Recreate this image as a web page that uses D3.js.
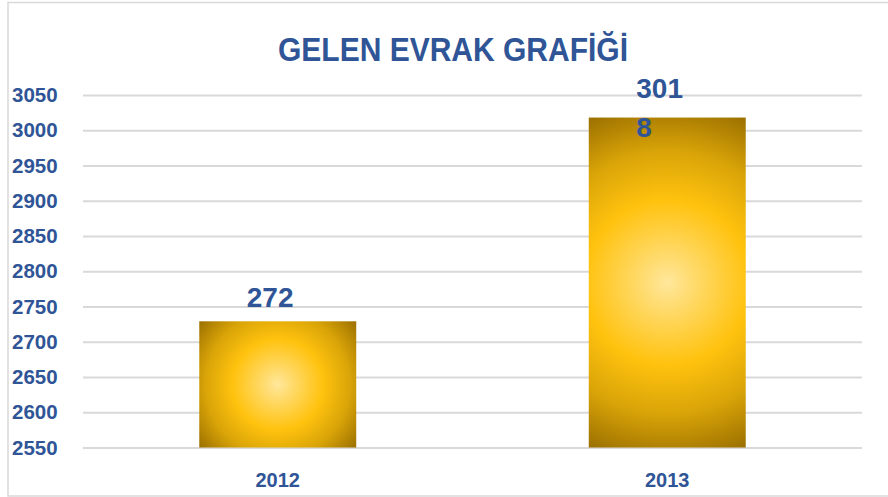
<!DOCTYPE html>
<html><head><meta charset="utf-8">
<script src="https://cdn.jsdelivr.net/npm/d3@7"></script>
<style>html,body{margin:0;padding:0;background:#fff;}svg{display:block;}</style>
</head><body>
<svg id="c" width="888" height="497"></svg>
<script>
const title = "GELEN EVRAK GRAFİĞİ";
const categories = ["2012", "2013"];
const values = [2729, 3018];
const labelLines = [["272"], ["301", "8"]];
const yTicks = [2550, 2600, 2650, 2700, 2750, 2800, 2850, 2900, 2950, 3000, 3050];

const svg = d3.select("#c");
const W = 888, H = 497;
const blue = "#2F5597";
const font = "'Liberation Sans', Arial, sans-serif";

// chart border
svg.append("rect").attr("x", 8).attr("y", 2.5).attr("width", W + 10).attr("height", 493.5)
  .attr("fill", "#fff").attr("stroke", "#d9d9d9").attr("stroke-width", 1.5);

const x = d3.scaleBand().domain(categories).range([83, 862]).paddingInner(0.597).paddingOuter(0.2985);
const y = d3.scaleLinear().domain([2550, 3050]).range([447.5, 95]);

// gridlines
const grid = svg.append("g").attr("transform", "translate(83,0)")
  .call(d3.axisLeft(y).tickValues(yTicks).tickSize(-(862 - 83)).tickFormat(""));
grid.select(".domain").remove();
grid.selectAll("line").attr("stroke", "#d9d9d9").attr("stroke-width", 2);

// tick labels
svg.append("g").selectAll("text").data(yTicks).join("text")
  .attr("x", 12).attr("y", d => y(d)).attr("dy", "0.35em")
  .attr("font-family", font).attr("font-weight", "bold").attr("font-size", 20.5)
  .attr("fill", blue).text(d => d);

// gradients
const defs = svg.append("defs");
categories.forEach((c, i) => {
  const bx = x(c), bw = x.bandwidth(), by = y(values[i]), bh = y(2550) - y(values[i]);
  const cx = bx + bw / 2, cy = by + bh / 2;
  const r = Math.sqrt((bw / 2) ** 2 + (bh / 2) ** 2);
  const g = defs.append("radialGradient").attr("id", "g" + i)
    .attr("gradientUnits", "userSpaceOnUse").attr("cx", cx).attr("cy", cy).attr("r", r)
    .attr("fx", cx).attr("fy", cy);
  [[0, "#FFE79C"], [0.18, "#FFD862"], [0.45, "#FFC20E"], [0.72, "#D9A408"], [1, "#9A6F00"]]
    .forEach(s => g.append("stop").attr("offset", s[0]).attr("stop-color", s[1]));
});

// bars
svg.append("g").selectAll("rect").data(categories).join("rect")
  .attr("x", d => x(d)).attr("width", x.bandwidth())
  .attr("y", (d, i) => y(values[i])).attr("height", (d, i) => y(2550) - y(values[i]))
  .attr("fill", (d, i) => `url(#g${i})`);

// value labels
categories.forEach((c, i) => {
  const lines = labelLines[i];
  const lh = 39;
  let first = y(values[i]) - 14 - (lines.length - 1) * lh;
  first = Math.max(first, 98);
  lines.forEach((t, j) => {
    svg.append("text").attr("x", x(c) + x.bandwidth() / 2 - 31).attr("y", first + j * lh)
      .attr("font-family", font).attr("font-weight", "bold").attr("font-size", 28)
      .attr("fill", blue).text(t);
  });
});

// category labels
svg.append("g").selectAll("text").data(categories).join("text")
  .attr("x", d => x(d) + x.bandwidth() / 2).attr("y", 487)
  .attr("text-anchor", "middle")
  .attr("font-family", font).attr("font-weight", "bold").attr("font-size", 20)
  .attr("fill", blue).text(d => d);

// title
svg.append("text").attr("x", 278).attr("y", 61)
  .attr("textLength", 350).attr("lengthAdjust", "spacingAndGlyphs")
  .attr("font-family", font).attr("font-weight", "bold").attr("font-size", 33)
  .attr("fill", blue).text(title);
</script>
</body></html>
